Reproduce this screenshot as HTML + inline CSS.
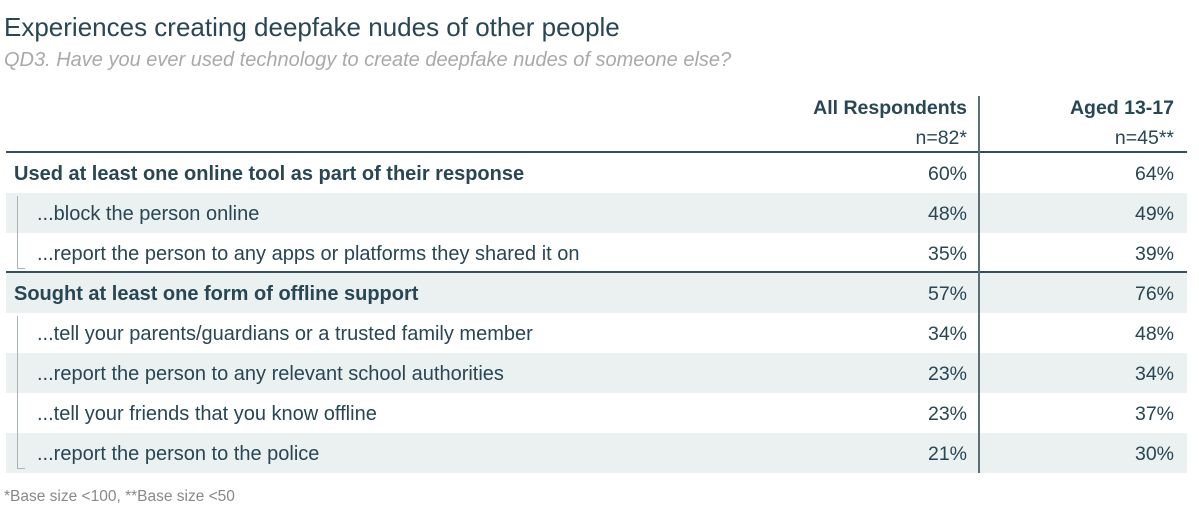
<!DOCTYPE html>
<html><head><meta charset="utf-8"><style>
body{margin:0;width:1199px;height:530px;background:#fff;font-family:"Liberation Sans",sans-serif;color:#284654;position:relative;overflow:hidden}
.abs{position:absolute;white-space:nowrap}
#title{left:4px;top:12px;font-size:26px}
#sub{left:4px;top:49px;font-size:20px;font-style:italic;color:#a9a9a9}
.row{position:absolute;left:6px;width:1181px;height:40px}
.row.sh{background:#ebf0f0}
.lab{position:absolute;left:8px;top:10px;font-size:20px}
.row.sub .lab{left:31px}
.row.b .lab{font-weight:bold}
.v1,.v2{position:absolute;top:10px;font-size:19.5px;text-align:right}
.v1{right:220px}.v2{right:13px}
.hline{position:absolute;left:6px;width:1181px;height:2px;background:#34505e}
</style></head><body>
<div class="abs" id="title">Experiences creating deepfake nudes of other people</div>
<div class="abs" id="sub">QD3. Have you ever used technology to create deepfake nudes of someone else?</div>
<div class="abs" style="right:232px;top:97px;font-size:19.5px;font-weight:bold">All Respondents</div>
<div class="abs" style="right:232px;top:127px;font-size:19.5px">n=82*</div>
<div class="abs" style="right:25px;top:97px;font-size:19.5px;font-weight:bold">Aged 13-17</div>
<div class="abs" style="right:25px;top:127px;font-size:19.5px">n=45**</div>
<div id="rows"></div>
<div class="hline" style="top:151px"></div>
<div class="hline" style="top:271px"></div>
<div class="abs" style="left:978px;top:96px;width:2px;height:377px;background:#5a6f79"></div>
<div class="abs" style="left:17px;top:196px;width:7px;height:72px;border-left:1px solid #a8b3b8;border-bottom:1px solid #a8b3b8"></div>
<div class="abs" style="left:17px;top:316px;width:7px;height:152px;border-left:1px solid #a8b3b8;border-bottom:1px solid #a8b3b8"></div>
<div class="abs" style="left:4px;top:488px;font-size:15.5px;color:#888">*Base size &lt;100, **Base size &lt;50</div>
<script>
const labels=["Used at least one online tool as part of their response","...block the person online","...report the person to any apps or platforms they shared it on","Sought at least one form of offline support","...tell your parents/guardians or a trusted family member","...report the person to any relevant school authorities","...tell your friends that you know offline","...report the person to the police"];
const allResp=[60,48,35,57,34,23,23,21];
const aged=[64,49,39,76,48,34,37,30];
const bold=[1,0,0,1,0,0,0,0];
const c=document.getElementById('rows');
labels.forEach((l,i)=>{
const r=document.createElement('div');


r.className='row'+(i%2?' sh':'')+(bold[i]?' b':' sub');
r.style.top=(153+i*40)+'px';
const a=document.createElement('div');a.className='lab';a.textContent=l;


const b=document.createElement('div');b.className='v1';b.textContent=allResp[i]+'%';


const d=document.createElement('div');d.className='v2';d.textContent=aged[i]+'%';


r.append(a,b,d);c.appendChild(r);
});
</script>
</body></html>
